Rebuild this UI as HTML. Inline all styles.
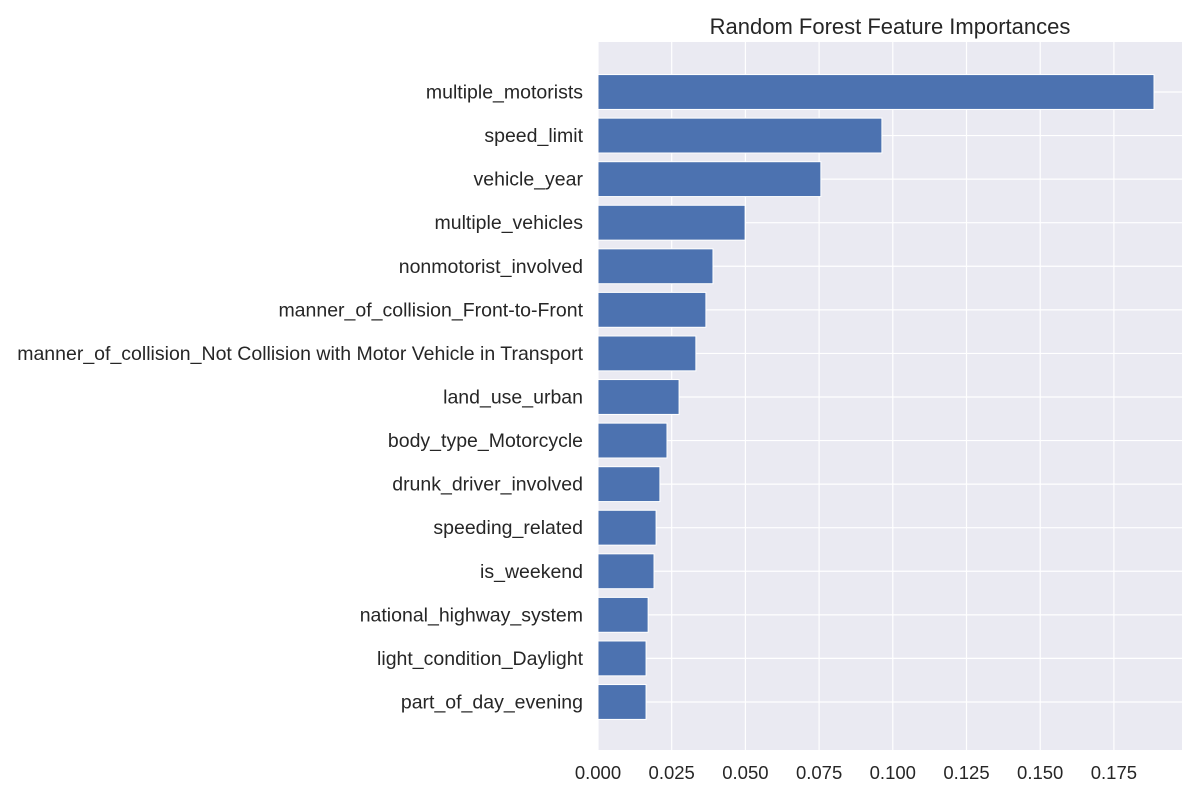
<!DOCTYPE html>
<html><head><meta charset="utf-8"><style>
body{margin:0;background:#fff;font-family:"Liberation Sans",Arial,sans-serif}
</style></head><body>
<svg id="chart" width="1200" height="800" xmlns="http://www.w3.org/2000/svg" font-family="Liberation Sans, Arial, sans-serif">
<rect x="598" y="42" width="584" height="708" fill="#eaeaf2"/>
<g id="grid"></g><g id="bars"></g><g id="ylabels"></g><g id="xlabels"></g>
<text x="890" y="34" font-size="22" text-anchor="middle" fill="#262626">Random Forest Feature Importances</text>
</svg>
<script>
const features=["multiple_motorists","speed_limit","vehicle_year","multiple_vehicles","nonmotorist_involved","manner_of_collision_Front-to-Front","manner_of_collision_Not Collision with Motor Vehicle in Transport","land_use_urban","body_type_Motorcycle","drunk_driver_involved","speeding_related","is_weekend","national_highway_system","light_condition_Daylight","part_of_day_evening"];
const importances=[0.1886,0.0963,0.0756,0.0499,0.039,0.0366,0.0332,0.0275,0.0234,0.021,0.0197,0.019,0.017,0.0163,0.0163];
const xTicks=[0,0.025,0.05,0.075,0.1,0.125,0.15,0.175];
const xTickLabels=["0.000","0.025","0.050","0.075","0.100","0.125","0.150","0.175"];
const NS="http://www.w3.org/2000/svg";
const x=v=>598+v*2948;
const step=43.57;
const y=i=>92+i*step;
function mk(t,a){const e=document.createElementNS(NS,t);for(const k in a)e.setAttribute(k,a[k]);return e;}
const grid=document.getElementById('grid'),bars=document.getElementById('bars'),yl=document.getElementById('ylabels'),xl=document.getElementById('xlabels');
xTicks.forEach((t,i)=>{
 const l=mk('line',{x1:x(t),x2:x(t),y1:42,y2:750,stroke:'#fff','stroke-width':1.2});
 
 
 grid.appendChild(l);
 const tx=mk('text',{x:x(t),y:779,'font-size':18.5,'text-anchor':'middle',fill:'#262626'});
 tx.textContent=xTickLabels[i];
 
 
 xl.appendChild(tx);
});
features.forEach((f,i)=>{
 const g=mk('line',{x1:598,x2:1182,y1:y(i),y2:y(i),stroke:'#fff','stroke-width':1.2});
 
 
 grid.appendChild(g);
 const h=step*0.8;
 const r=mk('rect',{x:598,y:y(i)-h/2,width:x(importances[i])-598,height:h,fill:'#4c72b0',stroke:'#fff','stroke-width':1});
 
 
 bars.appendChild(r);
 const t=mk('text',{x:583,y:y(i)+6.5,'font-size':19.5,'text-anchor':'end',fill:'#262626'});
 t.textContent=f;
 
 
 yl.appendChild(t);
});
</script>
</body></html>
